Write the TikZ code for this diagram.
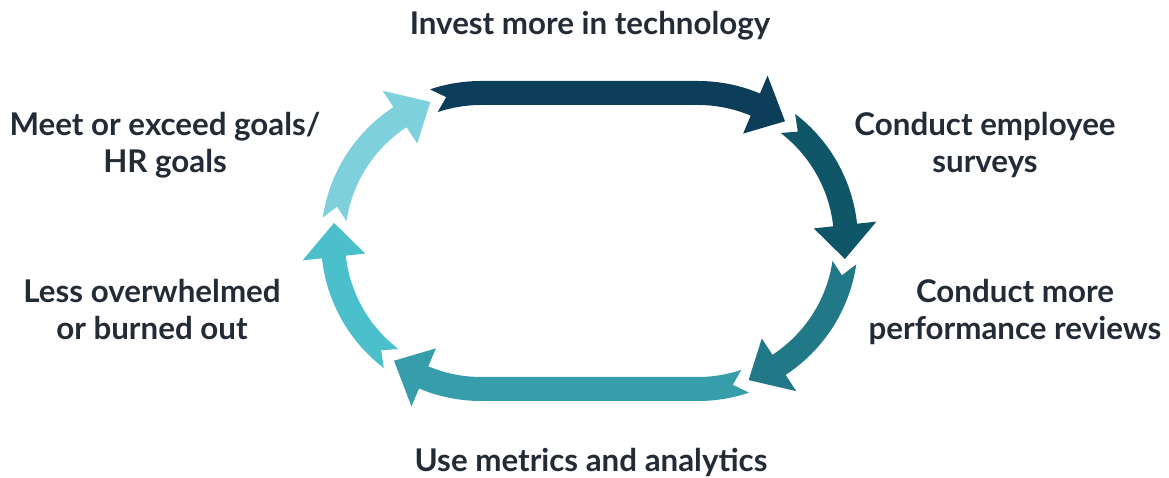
\documentclass[tikz,border=0pt]{standalone}
\usepackage{fontspec}
\setmainfont{Lato}

\definecolor{txt}{RGB}{35,43,54}
\definecolor{stepA}{RGB}{13,62,89}
\definecolor{stepB}{RGB}{14,86,104}
\definecolor{stepC}{RGB}{33,120,135}
\definecolor{stepD}{RGB}{56,157,171}
\definecolor{stepE}{RGB}{75,191,204}
\definecolor{stepF}{RGB}{126,208,221}

\begin{document}
\begin{tikzpicture}[x=1pt,y=1pt,every text node part/.style={align=center},
  lbl/.style={font=\fontsize{31.3}{37}\selectfont\bfseries,text=txt,inner sep=0pt,anchor=base}]

\useasboundingbox (0,0) rectangle (1169,478);

\coordinate (L) at (481,237);
\coordinate (R) at (698,237);

%%%%%%%%%%%%%%%%%%%%%%%%%%%%%%%%%%%%%%

\fill [stepA] ([shift={(108.6:160)}]L) arc[start angle=108.6,end angle=90,radius=160pt]
  -- ([shift={(90:160)}]R) arc[start angle=90,end angle=67.2,radius=160pt]
  -- ([shift={(67.2:179.5)}]R) -- ([shift={(54:148)}]R) -- ([shift={(67.2:116.5)}]R)
  -- ([shift={(67.2:136)}]R) arc[start angle=67.2,end angle=90,radius=136pt]
  -- ([shift={(90:136)}]L) arc[start angle=90,end angle=108.6,radius=136pt]
  -- ([shift={(103.6:148)}]L) -- cycle;

\fill [stepB] ([shift={(52.6:160)}]R) arc[start angle=52.6,end angle=6.2,radius=160pt]
  -- ([shift={(6.2:179.5)}]R) -- ([shift={(-7:148)}]R) -- ([shift={(6.2:116.5)}]R)
  -- ([shift={(6.2:136)}]R) arc[start angle=6.2,end angle=52.6,radius=136pt]
  -- ([shift={(47.6:148)}]R) -- cycle;

\fill [stepC] ([shift={(-8.4:160)}]R) arc[start angle=-8.4,end angle=-56.8,radius=160pt]
  -- ([shift={(-56.8:179.5)}]R) -- ([shift={(-70:148)}]R) -- ([shift={(-56.8:116.5)}]R)
  -- ([shift={(-56.8:136)}]R) arc[start angle=-56.8,end angle=-8.4,radius=136pt]
  -- ([shift={(-13.4:148)}]R) -- cycle;

%%%%%%%%%%%%%%%%%%%%%%%%%%%%%%%%%%%%%%

\fill [stepD] ([shift={(-71.4:160)}]R) arc[start angle=-71.4,end angle=-90,radius=160pt]
  -- ([shift={(270:160)}]L) arc[start angle=270,end angle=247.2,radius=160pt]
  -- ([shift={(247.2:179.5)}]L) -- ([shift={(234:148)}]L) -- ([shift={(247.2:116.5)}]L)
  -- ([shift={(247.2:136)}]L) arc[start angle=247.2,end angle=270,radius=136pt]
  -- ([shift={(-90:136)}]R) arc[start angle=-90,end angle=-71.4,radius=136pt]
  -- ([shift={(-76.4:148)}]R) -- cycle;

\fill [stepE] ([shift={(232.6:160)}]L) arc[start angle=232.6,end angle=186.2,radius=160pt]
  -- ([shift={(186.2:179.5)}]L) -- ([shift={(173:148)}]L) -- ([shift={(186.2:116.5)}]L)
  -- ([shift={(186.2:136)}]L) arc[start angle=186.2,end angle=232.6,radius=136pt]
  -- ([shift={(227.6:148)}]L) -- cycle;

\fill [stepF] ([shift={(171.6:160)}]L) arc[start angle=171.6,end angle=123.2,radius=160pt]
  -- ([shift={(123.2:179.5)}]L) -- ([shift={(110:148)}]L) -- ([shift={(123.2:116.5)}]L)
  -- ([shift={(123.2:136)}]L) arc[start angle=123.2,end angle=171.6,radius=136pt]
  -- ([shift={(166.6:148)}]L) -- cycle;

%%%%%%%%%%%%%%%%%%%%%%%%%%%%%%%%%%%%%%

\node[lbl] (invest) at (590,443) {Invest more in technology};
\node[lbl] (surveys) at (985,305) {Conduct employee\\surveys};
\node[lbl] (reviews) at (1015,138) {Conduct more\\performance reviews};
\node[lbl] (metrics) at (591,6) {Use metrics and analytics};
\node[lbl] (burnout) at (152,138) {Less overwhelmed\\or burned out};
\node[lbl] (goals) at (165,305) {Meet or exceed goals/\\HR goals};

\end{tikzpicture}
\end{document}
